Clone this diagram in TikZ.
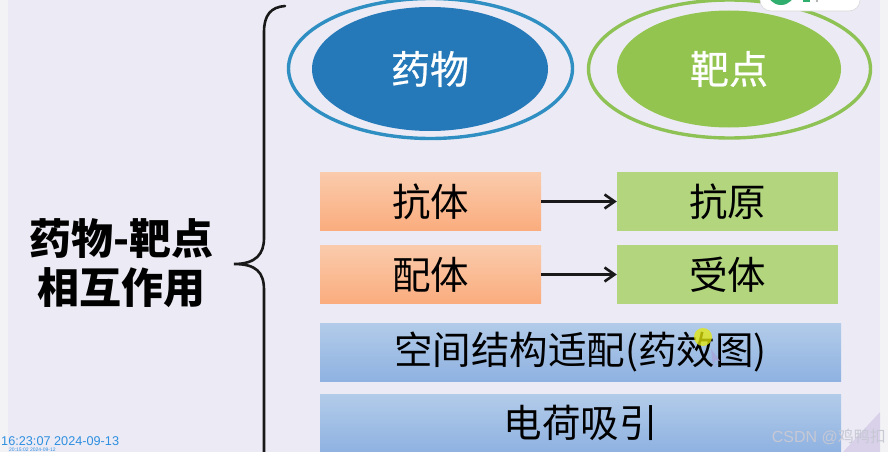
\documentclass[tikz,border=0pt]{standalone}
\usepackage{fontspec}
\setmainfont{Noto Sans CJK SC}
\newfontfamily\latinfont{Liberation Sans}
\newfontfamily\medfont[FakeBold=0.6]{Noto Sans CJK SC}
\usetikzlibrary{arrows.meta,shapes.geometric}
\definecolor{bgcol}{HTML}{ECEBF5}
\definecolor{stripcol}{HTML}{F3F3F5}
\definecolor{cornercol}{HTML}{D9D1EA}
\definecolor{blueell}{HTML}{2579B8}
\definecolor{blueline}{HTML}{2F8FC2}
\definecolor{greenell}{HTML}{92C44F}
\definecolor{greenline}{HTML}{8FC254}
\definecolor{greenbox}{HTML}{B2D57E}
\definecolor{stampcol}{HTML}{2E8FE0}
\definecolor{badgegreen}{HTML}{2FAE6E}
\definecolor{wmcol}{HTML}{C6C8D4}
\newcommand{\fs}[1]{\fontsize{#1}{#1}\selectfont}
\tikzset{
  ring/.style={ellipse,draw,line width=3.4pt,fill=none,inner sep=0pt,minimum width=#1},
  core/.style={ellipse,inner sep=0pt,text=white,font=\medfont\fs{39}},
  orangebox/.style={minimum width=221pt,minimum height=58.5pt,inner sep=0pt,font=\fs{38.5}},
  orangeshade/.style={top color={rgb,255:red,250;green,203;blue,172},bottom color={rgb,255:red,250;green,172;blue,125}},
  greenrect/.style={minimum width=221pt,minimum height=58.5pt,inner sep=0pt,fill=greenbox,font=\fs{38.5}},
  bluerect/.style={minimum width=521pt,minimum height=58pt,inner sep=0pt,top color={rgb,255:red,178;green,203;blue,233},bottom color={rgb,255:red,143;green,178;blue,225},font=\fs{38.5}},
  titletext/.style={font=\fs{42}\bfseries,inner sep=0pt},
  linkarrow/.style={line width=2.6pt,black!90,-{Straight Barb[length=10pt,width=14pt,line width=2.6pt]}},
  bracepath/.style={line width=2.6pt,black!90,line cap=round},
  stamp/.style={text=stampcol,inner sep=0pt,anchor=west}
}
\begin{document}
\begin{tikzpicture}[x=1pt,y=-1pt]
\useasboundingbox (0,0) rectangle (888,452);
\clip (0,0) rectangle (888,452);
\fill[bgcol] (0,0) rectangle (888,452);
\fill[stripcol] (0,0) rectangle (8,452);
\fill[stripcol] (880,0) rectangle (888,452);
\fill[cornercol] (843,452) -- (880,412) -- (880,452) -- cycle;

% ellipses
\node[ring=284pt,draw=blueline,minimum height=140pt] (drugring) at (430.5,68.5) {};
\node[core,fill=blueell,minimum width=236pt,minimum height=124pt] (drug) at (430,69) {药物};
\node[ring=282pt,draw=greenline,minimum height=138pt] (targetring) at (729.5,69) {};
\node[core,fill=greenell,minimum width=224pt,minimum height=117pt] (target) at (729,69) {靶点};

% badge
\fill[white,draw=black!15,line width=.6pt,rounded corners=11pt] (760,-20) rectangle (860,11);
\fill[badgegreen] (781,-9) circle (14pt);
\fill[badgegreen] (803,-4) rectangle (810,2);
\fill[black!40] (817,1) circle (1.2pt);

% brace
\draw[bracepath] (285,6) .. controls (271,7) and (264,15) .. (264,32)
  -- (264,238) .. controls (264,254) and (256,264) .. (234,264)
  .. controls (256,264) and (264,272) .. (264,290) -- (264,460);

% title
\node[titletext] (t1) at (121.5,239) {药物-靶点};
\node[titletext] (t2) at (121,288) {相互作用};

% boxes
\node[orangebox,orangeshade] (ab) at (430.5,201.5) {抗体};
\node[greenrect] (ag) at (727.5,201.5) {抗原};
\node[orangebox,orangeshade] (lig) at (430.5,274.5) {配体};
\node[greenrect] (rec) at (727.5,274.5) {受体};
\node[bluerect] (fit) at (580.5,352) {空间结构适配(药效图)};
\node[bluerect] (charge) at (580.5,423) {电荷吸引};
\draw[linkarrow] (ab) -- (ag);
\draw[linkarrow] (lig) -- (rec);

% pointer highlight
\fill[yellow!90!green,opacity=.75] (703,337) circle (9pt);
\fill[blue!40!gray!50,opacity=.8] (711,349) -- (720,361) -- (715,360) -- (713,366) -- cycle;

% watermark and timestamps
\node[inner sep=0pt,anchor=east,text=wmcol,font=\latinfont\fs{16}] (wm1) at (886,437) {CSDN @\fontspec{Noto Sans CJK SC}鸡鸭扣};
\node[stamp,font=\latinfont\fs{12.7}] (st1) at (1,441) {16:23:07 2024-09-13};
\node[stamp,font=\latinfont\fs{5}] (st2) at (9,449.5) {20:15:02 2024-09-12};
\end{tikzpicture}
\end{document}
